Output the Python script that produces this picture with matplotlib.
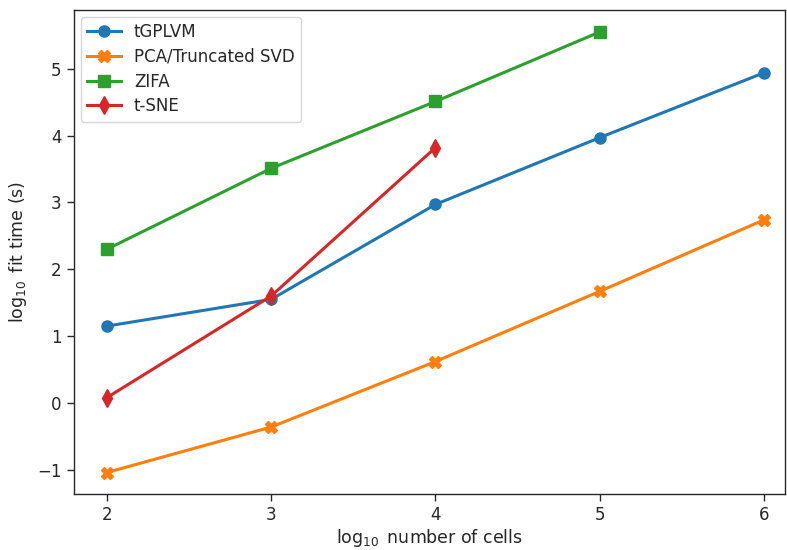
import matplotlib
matplotlib.use('Agg')
import matplotlib.pyplot as plt

# log10 number of cells
cells_tgplvm = [2, 3, 4, 5, 6]
fit_tgplvm = [1.15, 1.55, 2.97, 3.97, 4.94]

cells_pca = [2, 3, 4, 5, 6]
fit_pca = [-1.04, -0.36, 0.62, 1.67, 2.74]

cells_zifa = [2, 3, 4, 5]
fit_zifa = [2.30, 3.51, 4.51, 5.55]

cells_tsne = [2, 3, 4]
fit_tsne = [0.08, 1.60, 3.82]

plt.rcParams['font.family'] = 'DejaVu Sans'
text_col = '#262626'

fig = plt.figure(figsize=(7.87, 5.5), dpi=100)
ax = fig.add_axes([0.094, 0.102, 0.904, 0.88])

ax.plot(cells_tgplvm, fit_tgplvm, '-o', color='#1f77b4', lw=2.2, ms=8, label='tGPLVM')
ax.plot(cells_pca, fit_pca, '-X', color='#ff7f0e', lw=2.2, ms=9, label='PCA/Truncated SVD')
ax.plot(cells_zifa, fit_zifa, '-s', color='#2ca02c', lw=2.2, ms=8, label='ZIFA')
ax.plot(cells_tsne, fit_tsne, '-d', color='#d62728', lw=2.2, ms=9, label='t-SNE')

ax.set_xlim(1.8, 6.13)
ax.set_ylim(-1.36, 5.88)
ax.set_xticks([2, 3, 4, 5, 6])
ax.set_yticks([-1, 0, 1, 2, 3, 4, 5])
ax.tick_params(labelsize=12, colors=text_col, length=5, width=1, pad=4)
for s in ax.spines.values():
    s.set_color(text_col)
    s.set_linewidth(1)

ax.set_xlabel('$\\log_{10}$ number of cells', fontsize=12.5, color=text_col, labelpad=2)
ax.set_ylabel('$\\log_{10}$ fit time (s)', fontsize=12.5, color=text_col, labelpad=6)

leg = ax.legend(loc='upper left', fontsize=12, frameon=True, fancybox=True,
                borderaxespad=0.4, handlelength=2.0, labelspacing=0.4)
leg.get_frame().set_edgecolor('#cccccc')
for t in leg.get_texts():
    t.set_color(text_col)

plt.savefig('out.png', dpi=100)
plt.close()
